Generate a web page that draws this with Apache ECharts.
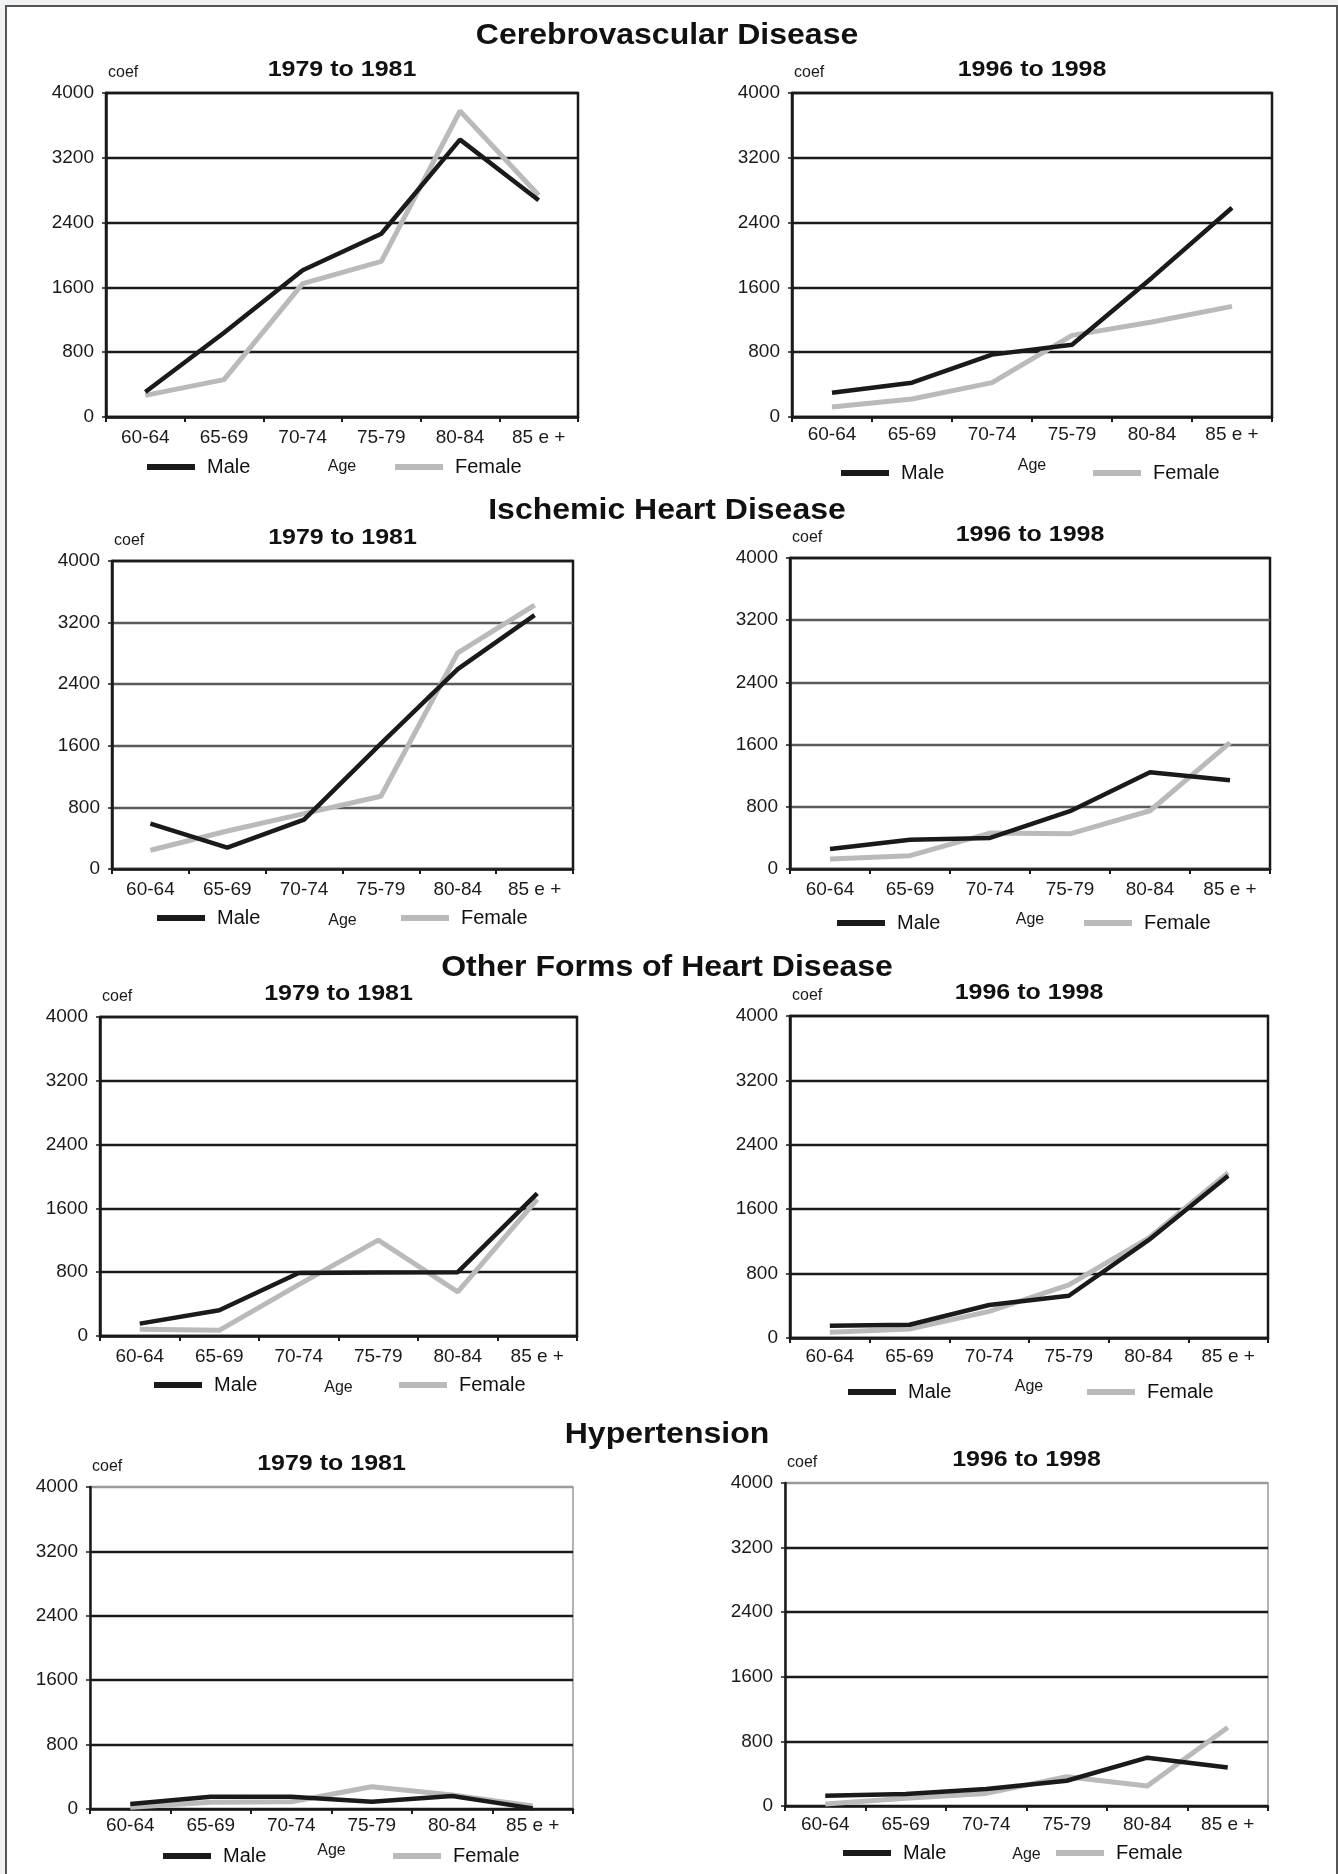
<!DOCTYPE html>
<html>
<head>
<meta charset="utf-8">
<script src="https://cdn.jsdelivr.net/npm/echarts@6/dist/echarts.min.js"></script>
<style>
  html, body { margin: 0; padding: 0; background: #f1f2f3; }
  #frame { position: absolute; left: 5px; top: 5px; width: 1329px; height: 1880px; background: #fff;
           border-left: 2px solid #555; border-top: 2px solid #555; border-right: 2px solid #555; }
  #chart { position: absolute; left: 0; top: 0; width: 1338px; height: 1874px; }
</style>
</head>
<body>
<div id="frame"></div>
<div id="chart"></div>
<script>
// ---- data ----
const ageGroups = ['60-64', '65-69', '70-74', '75-79', '80-84', '85 e +'];
const yMin = 0, yMax = 4000, yStep = 800;

const diseaseTitles = ['Cerebrovascular Disease', 'Ischemic Heart Disease', 'Other Forms of Heart Disease', 'Hypertension'];
const periodTitles = ['1979 to 1981', '1996 to 1998'];

const cerebro1979Male   = [309, 1040, 1811, 2263, 3424, 2675];
const cerebro1979Female = [267, 461, 1646, 1922, 3778, 2737];
const cerebro1996Male   = [300, 424, 770, 893, 1720, 2584];
const cerebro1996Female = [123, 222, 424, 1008, 1173, 1366];

const ischemic1979Male   = [589, 277, 641, 1629, 2596, 3298];
const ischemic1979Female = [243, 494, 719, 945, 2808, 3428];
const ischemic1996Male   = [257, 376, 400, 744, 1245, 1142];
const ischemic1996Female = [128, 171, 462, 453, 749, 1626];

const other1979Male   = [155, 323, 791, 795, 800, 1788];
const other1979Female = [84, 71, 645, 1202, 553, 1713];
const other1996Male   = [153, 165, 410, 525, 1215, 2016];
const other1996Female = [70, 112, 331, 661, 1240, 2054];

const hyper1979Male   = [62, 153, 153, 91, 161, 8];
const hyper1979Female = [21, 83, 91, 277, 174, 37];
const hyper1996Male   = [128, 148, 210, 313, 598, 478];
const hyper1996Female = [25, 95, 156, 363, 247, 973];

// ---- layout ----
const MALE_COLOR = '#1a1a1a';
const FEMALE_COLOR = '#bababa';
const panels = [
  {l:106, t:93,   r:578,  b:417,  m:cerebro1979Male,  f:cerebro1979Female,  p:0, lgM:41, lgF:289, lgY:50, age:42, lab:11, style:'dark'},
  {l:792, t:93,   r:1272, b:417,  m:cerebro1996Male,  f:cerebro1996Female,  p:1, lgM:49, lgF:301, lgY:56, age:41, lab:8,  style:'dark'},
  {l:112, t:561,  r:573,  b:869,  m:ischemic1979Male, f:ischemic1979Female, p:0, lgM:45, lgF:289, lgY:49, age:44, lab:11, style:'grey'},
  {l:790, t:558,  r:1270, b:869,  m:ischemic1996Male, f:ischemic1996Female, p:1, lgM:47, lgF:294, lgY:54, age:43, lab:11, style:'grey'},
  {l:100, t:1017, r:577,  b:1336, m:other1979Male,    f:other1979Female,    p:0, lgM:54, lgF:299, lgY:49, age:44, lab:11, style:'dark'},
  {l:790, t:1016, r:1268, b:1338, m:other1996Male,    f:other1996Female,    p:1, lgM:58, lgF:297, lgY:54, age:41, lab:9,  style:'dark'},
  {l:90,  t:1487, r:573,  b:1809, m:hyper1979Male,    f:hyper1979Female,    p:0, lgM:73, lgF:303, lgY:47, age:34, lab:7,  style:'light'},
  {l:785, t:1483, r:1268, b:1806, m:hyper1996Male,    f:hyper1996Female,    p:1, lgM:58, lgF:271, lgY:47, age:41, lab:9,  style:'light'}
];
const mainTitleY = [36, 511, 968, 1435];

const FONT = '"Liberation Sans", Arial, Helvetica, sans-serif';

const grid = [], xAxis = [], yAxis = [], series = [], legend = [], graphic = [];

panels.forEach((p, i) => {
  const nLines = (yMax - yMin) / yStep + 1;
  let splitColors, borderColor, borderWidth;
  if (p.style === 'grey') {
    splitColors = Array(nLines).fill('#5a5a5a'); splitColors[nLines - 1] = '#1a1a1a';
    borderColor = '#1a1a1a'; borderWidth = 2.5;
  } else if (p.style === 'light') {
    splitColors = Array(nLines).fill('#1a1a1a'); splitColors[nLines - 1] = '#9a9a9a';
    borderColor = '#9a9a9a'; borderWidth = 1.5;
  } else {
    splitColors = Array(nLines).fill('#1a1a1a');
    borderColor = '#1a1a1a'; borderWidth = 2.5;
  }
  grid.push({
    left: p.l, top: p.t, width: p.r - p.l, height: p.b - p.t,
    show: true, borderColor: borderColor, borderWidth: borderWidth, backgroundColor: 'transparent'
  });
  xAxis.push({
    type: 'category', gridIndex: i, data: ageGroups, boundaryGap: true,
    axisLine: { show: true, lineStyle: { color: '#1a1a1a', width: 2.5 } },
    axisTick: { show: true, length: 5, lineStyle: { color: '#1a1a1a', width: 2 } },
    axisLabel: { interval: 0, fontSize: 19, color: '#1a1a1a', fontFamily: FONT, margin: p.lab },
    splitLine: { show: false },
    name: 'Age', nameLocation: 'middle', nameGap: p.age,
    nameTextStyle: { fontSize: 16, color: '#1a1a1a', fontFamily: FONT }
  });
  yAxis.push({
    type: 'value', gridIndex: i, min: yMin, max: yMax, interval: yStep,
    axisLine: { show: true, lineStyle: { color: '#1a1a1a', width: 2.5 } },
    axisTick: { show: true, length: 4, lineStyle: { color: '#1a1a1a', width: 1.5 } },
    axisLabel: { fontSize: 19, color: '#1a1a1a', fontFamily: FONT, margin: 12, formatter: v => String(v) },
    splitLine: { show: true, lineStyle: { color: splitColors, width: 2.4 } },
    name: 'coef', nameLocation: 'end', nameGap: 12,
    nameTextStyle: { fontSize: 16, color: '#1a1a1a', fontFamily: FONT, align: 'left', padding: [0, 0, 0, 2] }
  });
  series.push({
    type: 'line', name: 'Male', xAxisIndex: i, yAxisIndex: i, data: p.m,
    symbol: 'none', lineStyle: { color: MALE_COLOR, width: 4.5 }, itemStyle: { color: MALE_COLOR },
    z: 4, animation: false
  });
  series.push({
    type: 'line', name: 'Female', xAxisIndex: i, yAxisIndex: i, data: p.f,
    symbol: 'none', lineStyle: { color: FEMALE_COLOR, width: 5 }, itemStyle: { color: FEMALE_COLOR },
    z: 3, animation: false
  });
  [['Male', p.lgM], ['Female', p.lgF]].forEach(([nm, off]) => {
    legend.push({
      data: [nm], left: p.l + off, top: p.b + p.lgY - 10, padding: 0,
      icon: 'rect', itemWidth: 48, itemHeight: 6, selectedMode: false,
      textStyle: { fontSize: 20, color: '#111', fontFamily: FONT, lineHeight: 20, padding: [0, 0, 0, 7] }
    });
  });
  // period subtitle
  graphic.push({
    type: 'text', x: (p.l + p.r) / 2, y: p.t - 23, scaleY: 0.9, silent: true,
    style: { text: periodTitles[p.p], fill: '#111', font: 'bold 25px ' + FONT,
             textAlign: 'center', textVerticalAlign: 'middle' }
  });
});

diseaseTitles.forEach((t, k) => {
  graphic.push({
    type: 'text', x: 667, y: mainTitleY[k], scaleY: 0.95, silent: true,
    style: { text: t, fill: '#111', font: 'bold 32px ' + FONT,
             textAlign: 'center', textVerticalAlign: 'middle' }
  });
});

const chart = echarts.init(document.getElementById('chart'), null, { renderer: 'canvas' });
chart.setOption({
  backgroundColor: 'transparent',
  animation: false,
  grid, xAxis, yAxis, series, legend, graphic
});
</script>
</body>
</html>
